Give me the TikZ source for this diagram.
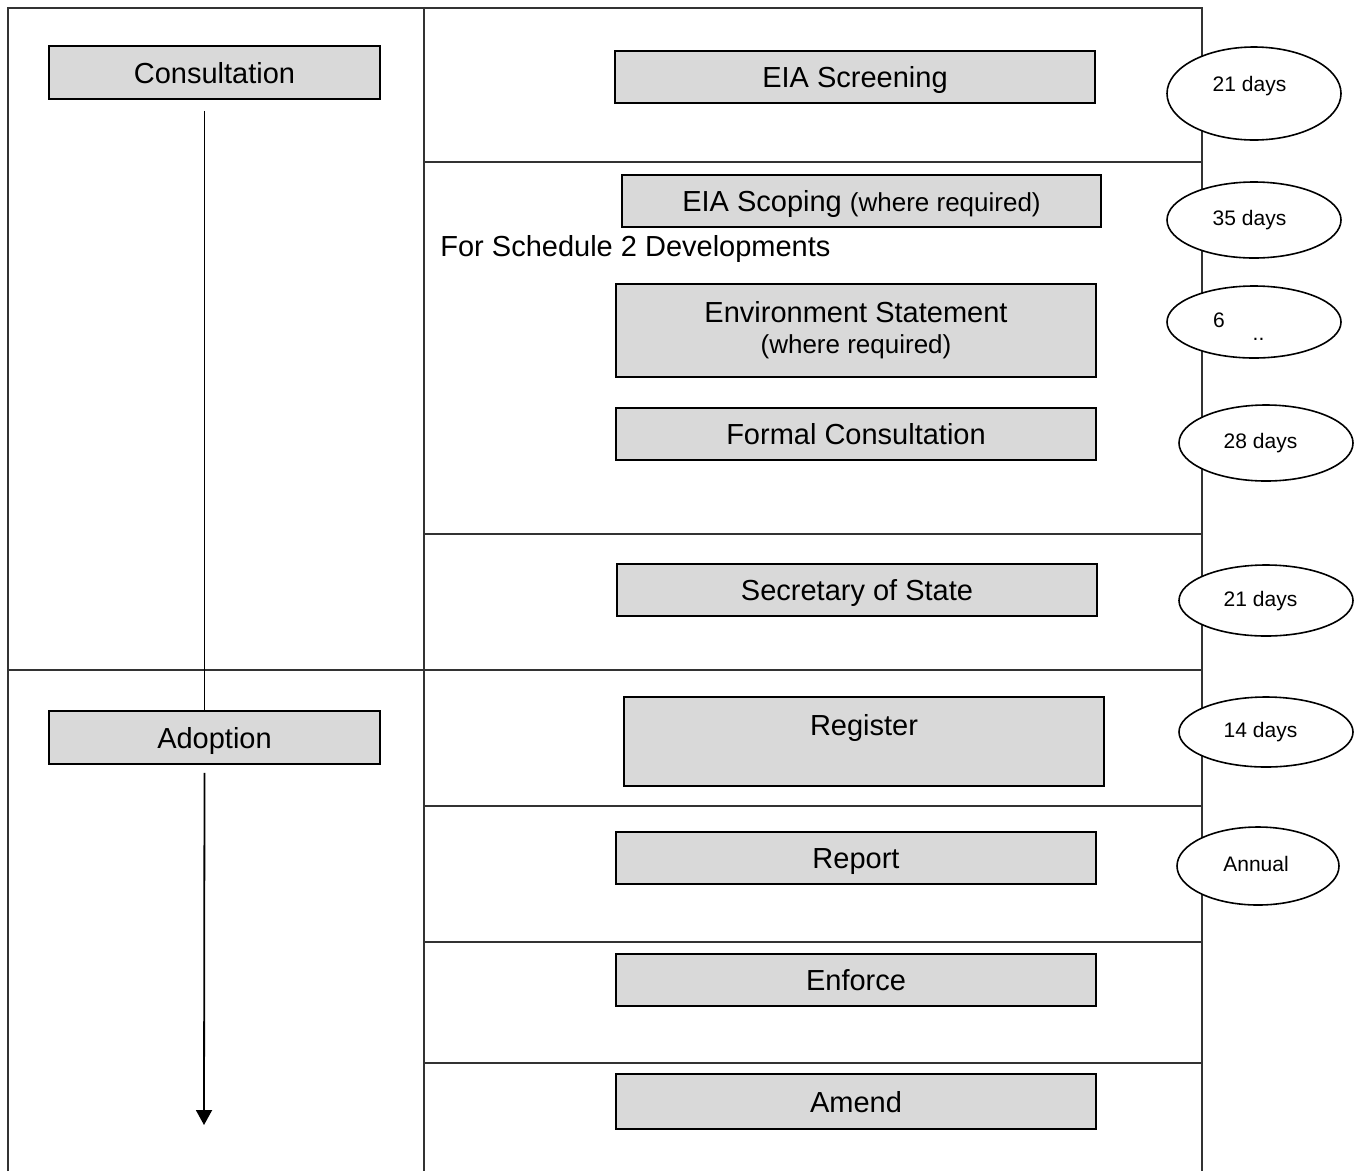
\documentclass[tikz,border=0pt]{standalone}
\usepackage{fontspec}
\setmainfont{Liberation Sans}
\usetikzlibrary{shapes.geometric,arrows.meta}
\definecolor{boxgray}{RGB}{217,217,217}
\begin{document}
\begin{tikzpicture}[x=1pt, y=-1pt, thick]
	\tikzstyle{stage}=[rectangle, draw=black, line width=1.6pt, fill=boxgray, inner sep=0pt, font=\fontsize{29}{33}\selectfont, minimum width=480pt, minimum height=52pt, text height=21pt, text depth=0pt]
	\tikzstyle{phase}=[stage, minimum width=331pt, minimum height=53pt]
	\tikzstyle{period}=[ellipse, draw=black, line width=1.6pt, fill=white, inner sep=0pt, minimum width=174pt, minimum height=76pt, font=\fontsize{21}{25}\selectfont, text height=15pt, text depth=4pt]
	\tikzstyle{grid}=[line width=1.3pt, black!80]
	\useasboundingbox (0,0) rectangle (1359,1171);

	% table
	\draw[grid] (8,1171) -- (8,8) -- (1202,8) -- (1202,1171);
	\draw[grid] (424,8) -- (424,1171);
	\draw[grid] (8,670) -- (1202,670);
	\foreach \y in {162,534,806,942,1063}
		\draw[grid] (424,\y) -- (1202,\y);

	% left column
	\node[phase] (Box-Consultation) at (214.5,72.5) {Consultation};
	\node[phase] (Box-Adoption) at (214.5,737.5) {Adoption};

	% right column
	\node[stage] (Box-Screening) at (855,77) {EIA Screening};
	\node[stage, minimum width=479pt] (Box-Scoping) at (861.5,201) {EIA Scoping {\fontsize{26}{30}\selectfont(where required)}};
	\node[anchor=west, font=\fontsize{29}{33}\selectfont, inner sep=0pt] (Note) at (440,249) {For Schedule 2 Developments};
	\node[stage, minimum height=93pt, align=center, text height=, text depth=] (Box-Statement) at (856,330.5) {Environment Statement\\[-2pt]{\fontsize{26}{30}\selectfont(where required)}};
	\node[stage] (Box-Formal) at (856,434) {Formal Consultation};
	\node[stage] (Box-Secretary) at (857,590) {Secretary of State};
	\node[stage, minimum height=89pt, text height=22pt, text depth=35pt] (Box-Register) at (864,741.5) {Register};
	\node[stage] (Box-Report) at (856,858) {Report};
	\node[stage] (Box-Enforce) at (856,980) {Enforce};
	\node[stage, minimum height=55pt] (Box-Amend) at (856,1101.5) {Amend};

	% time limits
	\node[period, minimum height=93pt, text depth=19pt] (Time-1) at (1254,93.5) {21 days\kern9pt};
	\node[period] (Time-2) at (1254,220) {35 days\kern9pt};
	\node[period, minimum height=72pt] (Time-3) at (1254,322) {\makebox[82pt][l]{6\hspace{28pt}\raisebox{-13pt}{..}}};
	\node[period] (Time-4) at (1266,443) {28 days\kern11pt};
	\node[period, minimum height=71pt] (Time-5) at (1266,600.5) {21 days\kern11pt};
	\node[period, minimum height=70pt] (Time-6) at (1266,732) {14 days\kern11pt};
	\node[period, minimum width=162pt, minimum height=78pt] (Time-7) at (1258,866) {Annual\kern4pt};

	% flow
	\coordinate (Arrow-End) at (204,1125);
	\draw[line width=1.8pt] ([xshift=-10pt,yshift=-11pt]Box-Consultation.south) -- ([xshift=-10pt]Box-Adoption.north);
	\draw[-{Triangle[length=15pt,width=16pt]}, line width=1.8pt] ([xshift=-10pt,yshift=-8pt]Box-Adoption.south) -- (Arrow-End);
\end{tikzpicture}
\end{document}
